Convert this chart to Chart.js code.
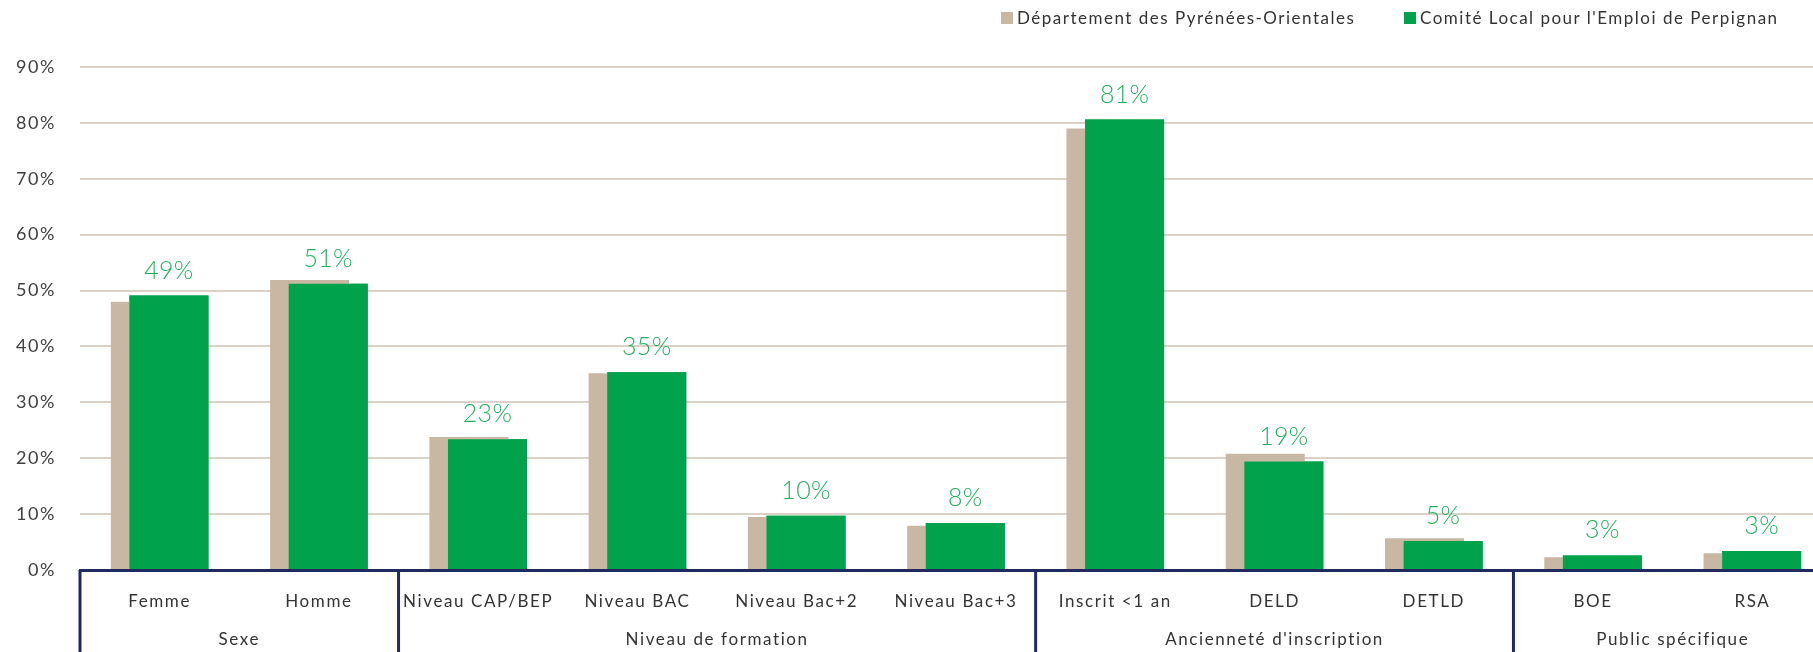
<!DOCTYPE html>
<html>
<head>
<meta charset="utf-8">
<script src="https://cdn.jsdelivr.net/npm/chart.js@4.4.0/dist/chart.umd.min.js"></script>
<style>
  html, body { margin: 0; padding: 0; background: #fff; overflow: hidden; }
  #wrap { position: relative; width: 1840px; height: 652px; }
  .leg { position: absolute; top: 7px; display: flex; align-items: center; letter-spacing: 1.5px;
         font-family: Lato, "Noto Sans", sans-serif; font-size: 17px; color: #333; white-space: nowrap; }
  .leg i { display: inline-block; width: 12px; height: 12px; margin-right: 4px; }
</style>
</head>
<body>
<div id="wrap">
  <canvas id="chart" width="1840" height="652"></canvas>
  <div class="leg" style="left:1001px"><i style="background:#C8B7A2"></i>Département des Pyrénées-Orientales</div>
  <div class="leg" style="left:1404px"><i style="background:#00A34B"></i>Comité Local pour l'Emploi de Perpignan</div>
</div>
<script>
const categories = ["Femme", "Homme", "Niveau CAP/BEP", "Niveau BAC", "Niveau Bac+2", "Niveau Bac+3",
                    "Inscrit <1 an", "DELD", "DETLD", "BOE", "RSA"];
const groupNames = ["Sexe", "Niveau de formation", "Ancienneté d'inscription", "Public spécifique"];
const groupSizes = [2, 4, 3, 2];
const departement = [48.0, 51.9, 23.8, 35.2, 9.5, 7.9, 79.0, 20.8, 5.7, 2.3, 3.0];
const comiteLocal = [49.1, 51.2, 23.4, 35.4, 9.7, 8.4, 80.6, 19.4, 5.2, 2.6, 3.4];
const yMax = 90;
const yStep = 10;

const navy = "#1F2A5E";
const font = 'Lato, "Noto Sans", sans-serif';

// wider text, closer to the original font
const spacingPlugin = {
    id: "spacing",
    beforeDraw(chart) {
        chart.ctx.letterSpacing = "1.6px";
    }
};

// green bars sit on top of the beige ones, and get their value label
const overlapPlugin = {
    id: "overlap",
    afterDatasetsDraw(chart) {
        const meta = chart.getDatasetMeta(1);
        meta.controller.draw();
        const ctx = chart.ctx;
        ctx.save();
        ctx.letterSpacing = "0.3px";
        ctx.fillStyle = "#22B05C";
        ctx.font = "300 25px " + font;
        ctx.textAlign = "center";
        ctx.textBaseline = "alphabetic";
        meta.data.forEach((bar, i) => {
            ctx.fillText(Math.round(comiteLocal[i]) + "%", bar.x, bar.y - 17);
        });
        ctx.restore();
    }
};

// group boxes and group labels under the x axis
const groupPlugin = {
    id: "groups",
    afterDraw(chart) {
        const x = chart.scales.x;
        const ctx = chart.ctx;
        const top = chart.chartArea.bottom;
        const bottom = chart.height;
        ctx.save();
        ctx.strokeStyle = navy;
        ctx.lineWidth = 3;
        ctx.fillStyle = "#333";
        ctx.font = "17px " + font;
        ctx.textAlign = "center";
        ctx.textBaseline = "middle";
        let start = 0;
        groupSizes.forEach((n, g) => {
            let left = start === 0 ? chart.chartArea.left
                : (x.getPixelForValue(start - 1) + x.getPixelForValue(start)) / 2;
            ctx.beginPath();
            ctx.moveTo(left, top);
            ctx.lineTo(left, bottom);
            ctx.stroke();
            let cx = (x.getPixelForValue(start) + x.getPixelForValue(start + n - 1)) / 2;
            ctx.fillText(groupNames[g], cx, 640);
            start += n;
        });
        ctx.restore();
    }
};

let chart = new Chart(document.getElementById("chart"), {
    type: "bar",
    data: {
        labels: categories,
        datasets: [{
            label: "Département des Pyrénées-Orientales",
            data: departement,
            backgroundColor: "#C8B7A2"
        }, {
            label: "Comité Local pour l'Emploi de Perpignan",
            data: comiteLocal,
            backgroundColor: "#00A34B"
        }]
    },
    options: {
        responsive: false,
        animation: false,
        layout: { padding: { top: 67, right: 8, bottom: 0, left: 0 } },
        datasets: {
            bar: { categoryPercentage: 0.2335, barPercentage: 4.25 }
        },
        plugins: {
            legend: { display: false },
            tooltip: { enabled: false }
        },
        scales: {
            x: {
                grid: { display: false },
                border: { display: true, color: navy, width: 3 },
                ticks: {
                    color: "#333",
                    font: { family: font, size: 17 },
                    padding: 13,
                    maxRotation: 0,
                    autoSkip: false
                },
                afterFit(s) { s.height = 82; }
            },
            y: {
                min: 0,
                max: yMax,
                grid: { color: "#DBD1C5", lineWidth: 2, drawTicks: false },
                border: { display: false },
                ticks: {
                    stepSize: yStep,
                    color: "#404040",
                    font: { family: font, size: 18 },
                    padding: 24,
                    callback: v => v + "%"
                },
                afterFit(s) { s.width = 80; }
            }
        }
    },
    plugins: [spacingPlugin, overlapPlugin, groupPlugin]
});
</script>
</body>
</html>
